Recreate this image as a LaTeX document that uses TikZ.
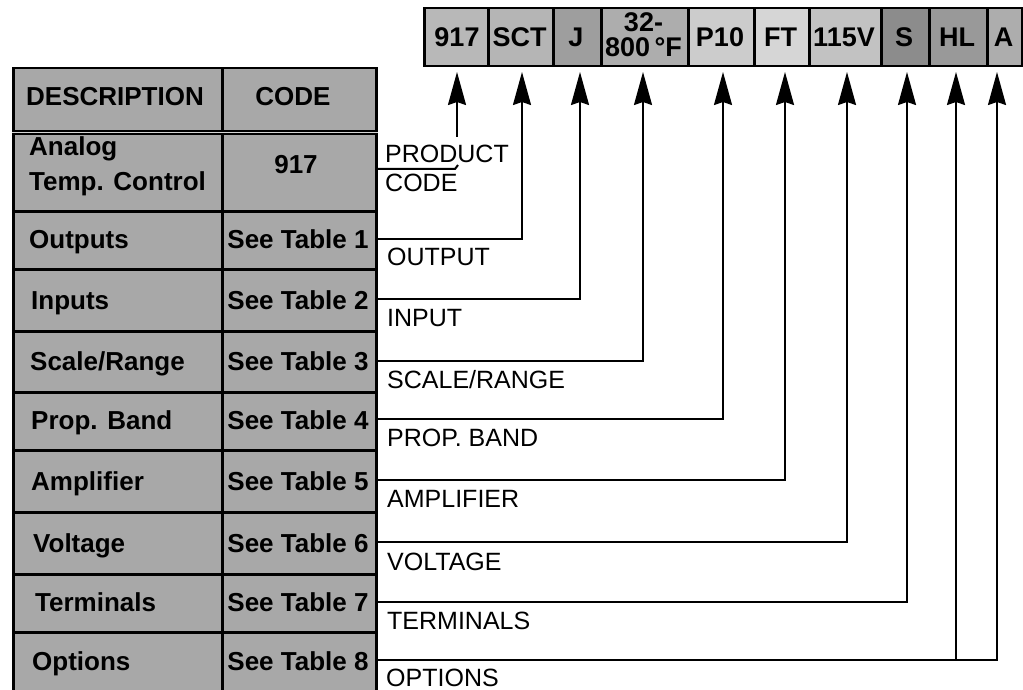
\documentclass[tikz,border=0pt]{standalone}
\usepackage{fontspec}
\setmainfont{Liberation Sans}
\usetikzlibrary{arrows.meta}
\definecolor{cellgray}{gray}{0.66}
\definecolor{g1}{gray}{0.72}
\definecolor{g2}{gray}{0.71}
\definecolor{g3}{gray}{0.62}
\definecolor{g4}{gray}{0.68}
\definecolor{g5}{gray}{0.80}
\definecolor{g6}{gray}{0.84}
\definecolor{g7}{gray}{0.76}
\definecolor{g8}{gray}{0.55}
\definecolor{g9}{gray}{0.60}
\definecolor{g10}{gray}{0.68}
\tikzset{
  cellbox/.style={draw=black, line width=2.5pt, fill=cellgray, inner sep=0pt, anchor=north west},
  barbox/.style={draw=black, line width=2.5pt, inner sep=0pt, anchor=north west, minimum height=58pt},
  celltxt/.style={font=\fontsize{26}{30}\selectfont\bfseries, inner sep=0pt},
  bartxt/.style={font=\fontsize{27}{30}\selectfont\bfseries, inner sep=0pt, anchor=base},
  labeltxt/.style={font=\fontsize{25}{30}\selectfont, inner sep=0pt, anchor=base west},
  conn/.style={line width=2pt},
  arr/.style={line width=2pt, -{Stealth[length=33pt,width=18pt,inset=3pt]}},
}
\begin{document}
\begin{tikzpicture}[x=1pt,y=-1pt]
\useasboundingbox (0,0) rectangle (1023,690);
\fill[white] (0,0) rectangle (1023,690);

% ---- code bar ----
\node[barbox, fill=g1,  minimum width=64pt] (c1)  at (423,7) {};
\node[barbox, fill=g2,  minimum width=65pt] (c2)  at (487,7) {};
\node[barbox, fill=g3,  minimum width=48pt] (c3)  at (552,7) {};
\node[barbox, fill=g4,  minimum width=87pt] (c4)  at (600,7) {};
\node[barbox, fill=g5,  minimum width=66pt] (c5)  at (687,7) {};
\node[barbox, fill=g6,  minimum width=55pt] (c6)  at (753,7) {};
\node[barbox, fill=g7,  minimum width=72pt] (c7)  at (808,7) {};
\node[barbox, fill=g8,  minimum width=48pt] (c8)  at (880,7) {};
\node[barbox, fill=g9,  minimum width=58pt] (c9)  at (928,7) {};
\node[barbox, fill=g10, minimum width=35pt] (c10) at (986,7) {};

\node[bartxt] (c1t)  at (457,47) {917};
\node[bartxt] (c2t)  at (519.5,47) {SCT};
\node[bartxt] (c3t)  at (576,47) {J};
\node[bartxt] (c4a)  at (643.5,32) {32-};
\node[bartxt] (c4b)  at (643.5,57) {800\,°F};
\node[bartxt] (c5t)  at (720,47) {P10};
\node[bartxt] (c6t)  at (780.5,47) {FT};
\node[bartxt] (c7t)  at (844,47) {115V};
\node[bartxt] (c8t)  at (904,47) {S};
\node[bartxt] (c9t)  at (957,47) {HL};
\node[bartxt] (c10t) at (1003.5,47) {A};

% ---- table ----
\node[cellbox, minimum width=209pt, minimum height=63pt] (hd) at (12,67) {};
\node[cellbox, minimum width=154pt, minimum height=63pt] (hc) at (221,67) {};
\node[cellbox, minimum width=209pt, minimum height=80pt] (d0) at (12,130) {};
\node[cellbox, minimum width=154pt, minimum height=80pt] (k0) at (221,130) {};
\node[cellbox, minimum width=209pt, minimum height=58pt] (d1) at (12,210) {};
\node[cellbox, minimum width=154pt, minimum height=58pt] (k1) at (221,210) {};
\node[cellbox, minimum width=209pt, minimum height=62pt] (d2) at (12,268) {};
\node[cellbox, minimum width=154pt, minimum height=62pt] (k2) at (221,268) {};
\node[cellbox, minimum width=209pt, minimum height=61pt] (d3) at (12,330) {};
\node[cellbox, minimum width=154pt, minimum height=61pt] (k3) at (221,330) {};
\node[cellbox, minimum width=209pt, minimum height=58pt] (d4) at (12,391) {};
\node[cellbox, minimum width=154pt, minimum height=58pt] (k4) at (221,391) {};
\node[cellbox, minimum width=209pt, minimum height=62pt] (d5) at (12,449) {};
\node[cellbox, minimum width=154pt, minimum height=62pt] (k5) at (221,449) {};
\node[cellbox, minimum width=209pt, minimum height=62pt] (d6) at (12,511) {};
\node[cellbox, minimum width=154pt, minimum height=62pt] (k6) at (221,511) {};
\node[cellbox, minimum width=209pt, minimum height=58pt] (d7) at (12,573) {};
\node[cellbox, minimum width=154pt, minimum height=58pt] (k7) at (221,573) {};
\node[cellbox, minimum width=209pt, minimum height=62pt] (d8) at (12,631) {};
\node[cellbox, minimum width=154pt, minimum height=62pt] (k8) at (221,631) {};
% double rule under header
\draw[line width=1.3pt, double=cellgray!50, double distance=1.6pt] (hd.south west) -- (hc.south east);

\node[celltxt, anchor=base] (hdt) at (115,106) {DESCRIPTION};
\node[celltxt, anchor=base] (hct) at (293,106) {CODE};
\node[celltxt, anchor=base west] (d0a) at (29,156) {Analog};
\node[celltxt, anchor=base west] (d0b) at (29,190) {Temp. Control};
\node[celltxt, anchor=base] (k0t) at (296,174) {917};

\node[celltxt, anchor=base west] (d1t) at (29,248) {Outputs};
\node[celltxt, anchor=base west] (d2t) at (31,309) {Inputs};
\node[celltxt, anchor=base west] (d3t) at (30,370) {Scale/Range};
\node[celltxt, anchor=base west] (d4t) at (31,429) {Prop. Band};
\node[celltxt, anchor=base west] (d5t) at (31,490) {Amplifier};
\node[celltxt, anchor=base west] (d6t) at (33,552) {Voltage};
\node[celltxt, anchor=base west] (d7t) at (35,611) {Terminals};
\node[celltxt, anchor=base west] (d8t) at (32,670) {Options};

\node[celltxt, anchor=base] (k1t) at (298,248) {See Table 1};
\node[celltxt, anchor=base] (k2t) at (298,309) {See Table 2};
\node[celltxt, anchor=base] (k3t) at (298,370) {See Table 3};
\node[celltxt, anchor=base] (k4t) at (298,429) {See Table 4};
\node[celltxt, anchor=base] (k5t) at (298,490) {See Table 5};
\node[celltxt, anchor=base] (k6t) at (298,552) {See Table 6};
\node[celltxt, anchor=base] (k7t) at (298,611) {See Table 7};
\node[celltxt, anchor=base] (k8t) at (298,670) {See Table 8};

% ---- labels ----
\node[labeltxt] (l0a) at (385,163) {PRODUCT};
\node[labeltxt] (l0b) at (385,192) {CODE};
\node[labeltxt] (l1) at (387,265) {OUTPUT};
\node[labeltxt] (l2) at (387,326) {INPUT};
\node[labeltxt] (l3) at (387,388) {SCALE/RANGE};
\node[labeltxt] (l4) at (387,446) {PROP. BAND};
\node[labeltxt] (l5) at (387,507) {AMPLIFIER};
\node[labeltxt] (l6) at (387,570) {VOLTAGE};
\node[labeltxt] (l7) at (387,629) {TERMINALS};
\node[labeltxt] (l8) at (386,686) {OPTIONS};

% ---- connector anchors ----
\coordinate (t1)  at (457,72);
\coordinate (t2)  at (522,72);
\coordinate (t3)  at (580,72);
\coordinate (t4)  at (643,72);
\coordinate (t5)  at (723,72);
\coordinate (t6)  at (785,72);
\coordinate (t7)  at (847,72);
\coordinate (t8)  at (907,72);
\coordinate (t9)  at (956,72);
\coordinate (t10) at (997,72);
\coordinate (s0) at (375,169);
\coordinate (s1) at (375,239);
\coordinate (s2) at (375,299);
\coordinate (s3) at (375,361);
\coordinate (s4) at (375,419);
\coordinate (s5) at (375,480);
\coordinate (s6) at (375,542);
\coordinate (s7) at (375,602);
\coordinate (s8) at (375,660);
\coordinate (h0) at (455,169);
\coordinate (h1) at (458,165);
\coordinate (a1) at (457,137);
\coordinate (j9) at (956,660);

% ---- connectors ----
\draw[conn] (s0) -- (h0) -- (h1);
\draw[arr] (a1) -- (t1);
\draw[arr] (s1) -| (t2);
\draw[arr] (s2) -| (t3);
\draw[arr] (s3) -| (t4);
\draw[arr] (s4) -| (t5);
\draw[arr] (s5) -| (t6);
\draw[arr] (s6) -| (t7);
\draw[arr] (s7) -| (t8);
\draw[arr] (s8) -| (t10);
\draw[arr] (j9) -- (t9);
\end{tikzpicture}
\end{document}
